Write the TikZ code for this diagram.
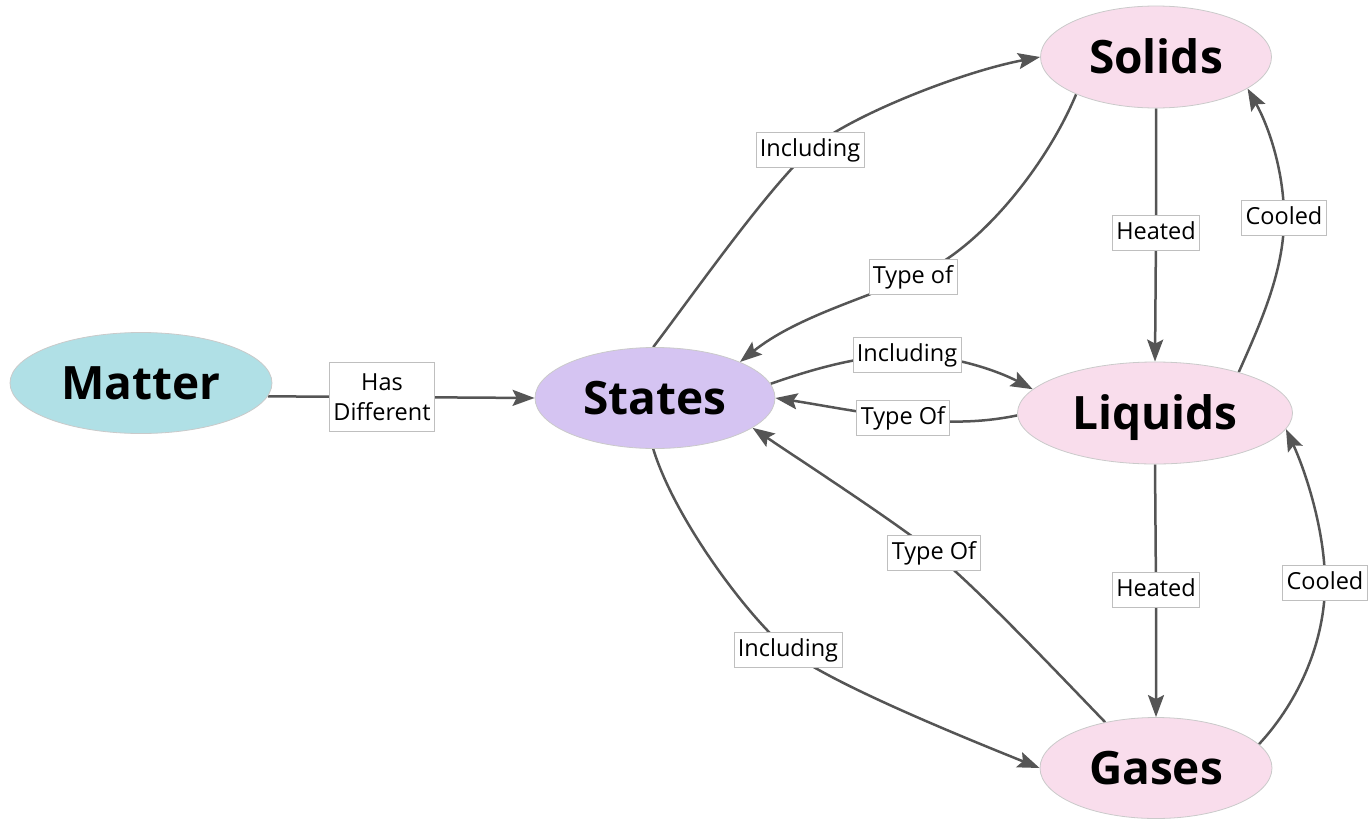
\documentclass[tikz,border=0pt]{standalone}
\usepackage{fontspec}
\setmainfont{Open Sans}
\usetikzlibrary{arrows.meta,shapes.geometric}
\pgfdeclarelayer{edges}
\pgfsetlayers{edges,main}
\definecolor{edgegray}{HTML}{555555}
\definecolor{matterfill}{HTML}{B0E0E6}
\definecolor{statesfill}{HTML}{D5C4F2}
\definecolor{phasefill}{HTML}{F9DDEC}
\definecolor{rimgray}{HTML}{CACACA}
\definecolor{boxgray}{HTML}{BFBFBF}
\begin{document}
\begin{tikzpicture}[x=1pt,y=-1pt,
  concept/.style={ellipse, draw=rimgray, line width=0.8pt, inner sep=0pt,
    text height=33pt, text depth=0pt,
    font=\fontsize{46}{50}\selectfont\bfseries},
  tagbase/.style={draw=boxgray, line width=0.8pt, fill=white, inner xsep=4pt,
    font=\fontsize{23.5}{30}\selectfont, align=center},
  tag/.style={tagbase, inner ysep=0pt, minimum height=35pt,
    text height=17pt, text depth=5pt},
  link/.style={draw=edgegray, line width=2.5pt,
    -{Stealth[length=22pt,width=16pt,inset=4pt]}}]
\useasboundingbox (0,0) rectangle (1370,819);

% concepts
\node[concept, fill=matterfill, minimum width=262pt, minimum height=101pt] (matter) at (141,383) {Matter};
\node[concept, fill=statesfill, minimum width=240pt, minimum height=101pt] (states) at (655,398) {States};
\node[concept, fill=phasefill, minimum width=231pt, minimum height=102pt] (solids) at (1156,57) {Solids};
\node[concept, fill=phasefill, minimum width=275pt, minimum height=102pt] (liquids) at (1155,413) {Liquids};
\node[concept, fill=phasefill, minimum width=232pt, minimum height=101pt] (gases) at (1156,768) {Gases};

% link labels
\node[tagbase, inner ysep=11pt] (hasdiff) at (382,397) {Has\\Different};
\node[tag] (inc1) at (810,150) {Including};
\node[tag] (typ1) at (913,277) {Type of};
\node[tag] (inc2) at (907,355) {Including};
\node[tag] (typ2) at (903,418) {Type Of};
\node[tag] (heat1) at (1156,233) {Heated};
\node[tag] (cool1) at (1284,218) {Cooled};
\node[tag] (typ3) at (934,553) {Type Of};
\node[tag] (heat2) at (1156,590) {Heated};
\node[tag] (cool2) at (1325,583) {Cooled};
\node[tag] (inc3) at (788,650) {Including};

% links, drawn beneath the boxes
\begin{pgfonlayer}{edges}
\draw[link] (matter.-6) -- (hasdiff.center) -- (states.180);
\draw[link] (states.92) .. controls (695,292) and (765,192) .. (inc1.center)
  .. controls (845,118) and (960,72) .. (solids.180);
\draw[link] (solids.205) .. controls (1045,169) and (975,254) .. (typ1.center)
  .. controls (860,300) and (795,318) .. (states.23);
\draw[link] (states.7) .. controls (810,370) and (860,355) .. (inc2.center)
  .. controls (955,355) and (1000,372) .. (liquids.169);
\draw[link] (liquids.181) .. controls (985,422) and (950,424) .. (typ2.center)
  .. controls (856,412) and (815,404) .. (states.0);
\draw[link] (solids.south) -- (heat1.center) -- (liquids.north);
\draw[link] (liquids.26) .. controls (1262,320) and (1284,270) .. (cool1.center)
  .. controls (1284,170) and (1268,125) .. (solids.-19);
\draw[link] (liquids.south) -- (heat2.center) -- (gases.north);
\draw[link] (gases.13) .. controls (1300,700) and (1325,640) .. (cool2.center)
  .. controls (1325,530) and (1305,470) .. (liquids.-7);
\draw[link] (gases.138) .. controls (1050,665) and (974,585) .. (typ3.center)
  .. controls (894,521) and (800,460) .. (states.-17);
\draw[link] (states.268) .. controls (675,520) and (749,618) .. (inc3.center)
  .. controls (827,682) and (965,738) .. (gases.180);
\end{pgfonlayer}
\end{tikzpicture}
\end{document}
